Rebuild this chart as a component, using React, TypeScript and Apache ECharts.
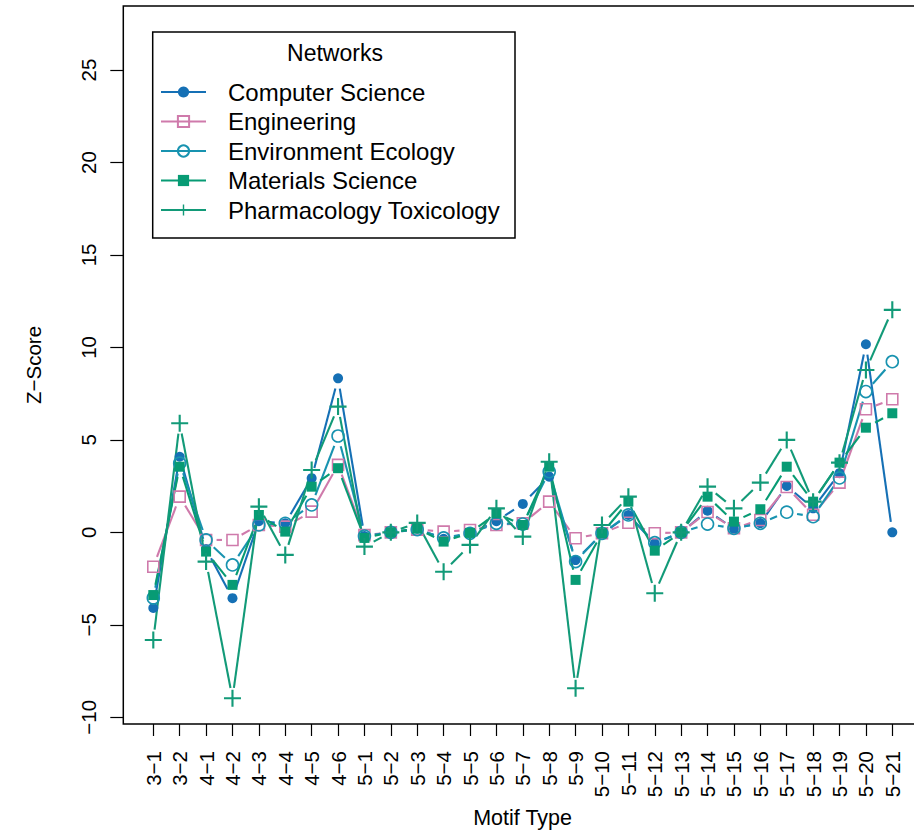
import React, { useEffect, useRef } from "react";
import * as echarts from "echarts";

const categories = [
  "3-1", "3-2", "4-1", "4-2", "4-3", "4-4", "4-5", "4-6",
  "5-1", "5-2", "5-3", "5-4", "5-5", "5-6", "5-7", "5-8", "5-9", "5-10",
  "5-11", "5-12", "5-13", "5-14", "5-15", "5-16", "5-17", "5-18", "5-19", "5-20", "5-21",
];

const computerScience = [
  -4.09, 4.09, -0.9, -3.56, 0.6, 0.49, 2.93, 8.33,
  -0.2, 0, 0.2, -0.35, -0.05, 0.6, 1.54, 3.01, -1.5, -0.1,
  0.94, -0.6, 0, 1.17, 0.2, 0.5, 2.51, 1.3, 3.2, 10.17, 0,
];
const engineering = [
  -1.86, 1.93, -0.41, -0.41, 0.4, 0.31, 1.12, 3.65,
  -0.15, 0, 0.15, 0.04, 0.13, 0.4, 0.49, 1.66, -0.32, -0.05,
  0.52, -0.05, 0, 1.1, 0.22, 0.67, 2.45, 0.95, 2.69, 6.66, 7.2,
];
const environmentEcology = [
  -3.55, 3.74, -0.41, -1.76, 0.4, 0.49, 1.48, 5.21,
  -0.2, 0, 0.15, -0.3, -0.05, 0.49, 0.45, 3.28, -1.58, -0.05,
  0.94, -0.56, 0, 0.45, 0.22, 0.49, 1.09, 0.85, 2.94, 7.61, 9.23,
];
const materialsScience = [
  -3.39, 3.55, -1.04, -2.84, 0.94, 0.04, 2.47, 3.47,
  -0.3, 0, 0.2, -0.5, -0.03, 1.03, 0.4, 3.55, -2.57, -0.05,
  1.66, -0.99, 0, 1.93, 0.58, 1.25, 3.55, 1.66, 3.77, 5.66, 6.44,
];
const pharmacologyToxicology = [
  -5.82, 5.9, -1.58, -8.97, 1.39, -1.22, 3.37, 6.8,
  -0.77, 0, 0.51, -2.13, -0.68, 1.3, -0.23, 3.82, -8.43, 0.4,
  1.93, -3.29, 0, 2.47, 1.3, 2.69, 5.0, 1.66, 3.77, 8.78, 12.03,
];

const yTicks = [-10, -5, 0, 5, 10, 15, 20, 25];

const networkNames = [
  "Computer Science",
  "Engineering",
  "Environment Ecology",
  "Materials Science",
  "Pharmacology Toxicology",
];

const FONT = "'Liberation Sans', Arial, Helvetica, sans-serif";
const PLUS = "path://M7,0 H9 V7 H16 V9 H9 V16 H7 V9 H0 V7 H7 Z";
const GAP = 10.5;

export default function App() {
  const ref = useRef<HTMLDivElement>(null);

  useEffect(() => {
    if (!ref.current) return;
    const chart = echarts.init(ref.current, null, { renderer: "svg" });

    const seriesDefs = [
      { name: networkNames[0], data: computerScience, color: "#1570b5", symbol: "circle", size: 10, hollow: false },
      { name: networkNames[1], data: engineering, color: "#cf7aab", symbol: "rect", size: 11, hollow: true },
      { name: networkNames[2], data: environmentEcology, color: "#1893b0", symbol: "circle", size: 12, hollow: true },
      { name: networkNames[3], data: materialsScience, color: "#079b74", symbol: "rect", size: 10, hollow: false },
      { name: networkNames[4], data: pharmacologyToxicology, color: "#129a78", symbol: PLUS, size: 17, hollow: false },
    ];

    const series: any[] = [];
    seriesDefs.forEach((s) => {
      const segData = s.data.slice(0, -1).map((v, i) => [i, v, s.data[i + 1]]);
      series.push({
        type: "custom",
        name: s.name + " segments",
        data: segData,
        encode: { x: 0, y: 1 },
        silent: true,
        renderItem: (params: any, api: any) => {
          const i = api.value(0);
          const a = api.coord([i, api.value(1)]);
          const b = api.coord([i + 1, api.value(2)]);
          const dx = b[0] - a[0];
          const dy = b[1] - a[1];
          const L = Math.hypot(dx, dy);
          if (L <= 2 * GAP) return { type: "group", children: [] };
          const ux = dx / L;
          const uy = dy / L;
          return {
            type: "line",
            shape: {
              x1: a[0] + ux * GAP,
              y1: a[1] + uy * GAP,
              x2: b[0] - ux * GAP,
              y2: b[1] - uy * GAP,
            },
            style: { stroke: s.color, lineWidth: 2.1, fill: null },
          };
        },
      });
      series.push({
        type: "line",
        name: s.name,
        data: s.data,
        symbol: s.symbol,
        symbolSize: s.size,
        showAllSymbol: true,
        lineStyle: { color: s.color, width: 0, opacity: 0 },
        itemStyle: s.hollow
          ? { color: "rgba(255,255,255,0)", borderColor: s.color, borderWidth: 1.6 }
          : { color: s.color, borderWidth: 0 },
        emphasis: { disabled: true },
      });
    });

    const option: any = {
      animation: false,
      backgroundColor: "#ffffff",
      textStyle: { fontFamily: FONT },
      grid: { left: 153.3, right: 21.7, top: 70, bottom: 115.7, containLabel: false },
      xAxis: {
        type: "category",
        data: categories,
        boundaryGap: false,
        offset: 6.7,
        axisLine: { show: false, onZero: false },
        axisTick: { show: true, interval: 0, length: 12, lineStyle: { color: "#000", width: 1.2 } },
        axisLabel: {
          interval: 0,
          rotate: 90,
          margin: 27,
          fontSize: 20.5,
          color: "#000",
          fontFamily: FONT,
          formatter: (v: string) => v.replace("-", "\u2212"),
        },
        splitLine: { show: false },
      },
      yAxis: {
        type: "value",
        min: yTicks[0],
        max: yTicks[yTicks.length - 1],
        interval: 5,
        offset: 30,
        axisLine: { show: false, onZero: false },
        axisTick: { show: true, length: 13, lineStyle: { color: "#000", width: 1.2 } },
        axisLabel: {
          rotate: 90,
          margin: 24,
          fontSize: 20.5,
          color: "#000",
          fontFamily: FONT,
          formatter: (v: number) => String(v).replace("-", "\u2212"),
        },
        splitLine: { show: false },
      },
      legend: {
        data: networkNames,
        orient: "vertical",
        left: 160,
        top: 80,
        padding: 0,
        itemWidth: 45,
        itemHeight: 14,
        itemGap: 5.5,
        selectedMode: false,
        textStyle: { fontSize: 24, lineHeight: 24, color: "#000", fontFamily: FONT, padding: [0, 0, 0, 17] },
        lineStyle: { width: 2, opacity: 1 },
      },
      graphic: [
        {
          type: "rect",
          shape: { x: 123.3, y: 6, width: 800, height: 718 },
          style: { fill: "none", stroke: "#000", lineWidth: 1.5 },
          silent: true,
          z: 100,
        },
        {
          type: "rect",
          shape: { x: 152.7, y: 32, width: 362.3, height: 206 },
          style: { fill: "none", stroke: "#000", lineWidth: 1.5 },
          silent: true,
        },
        {
          type: "text",
          x: 335,
          y: 53,
          style: { text: "Networks", font: `23px ${FONT}`, fill: "#000", textAlign: "center", textVerticalAlign: "middle" },
        },
        {
          type: "text",
          x: 33,
          y: 365,
          rotation: Math.PI / 2,
          style: { text: "Z\u2212Score", font: `20.5px ${FONT}`, fill: "#000", textAlign: "center", textVerticalAlign: "middle" },
        },
        {
          type: "text",
          x: 522.6,
          y: 818,
          style: { text: "Motif Type", font: `21.5px ${FONT}`, fill: "#000", textAlign: "center", textVerticalAlign: "middle" },
        },
      ],
      series,
    };

    chart.setOption(option);
    return () => chart.dispose();
  }, []);

  return (
    <div
      ref={ref}
      style={{ position: "fixed", left: 0, top: 0, width: 914, height: 833, background: "#fff" }}
    />
  );
}
